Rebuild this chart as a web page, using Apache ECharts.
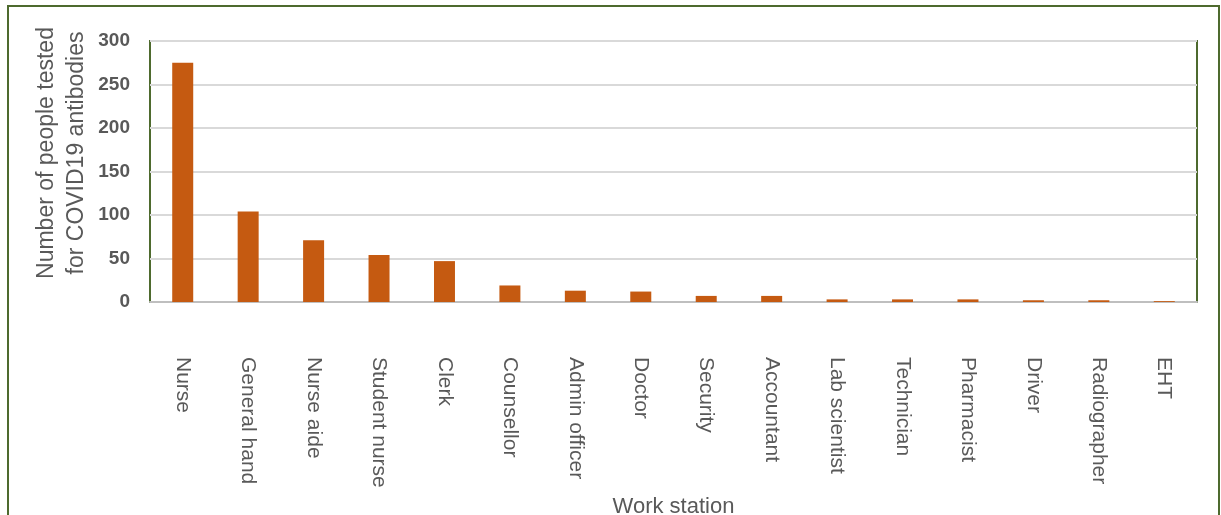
<!DOCTYPE html>
<html>
<head>
<meta charset="utf-8">
<script src="https://cdn.jsdelivr.net/npm/echarts@6/dist/echarts.min.js"></script>
<style>
  html, body { margin: 0; padding: 0; background: #fff; }
  #chart { width: 1221px; height: 515px; }
</style>
</head>
<body>
<div id="chart"></div>
<script>
const categories = ['Nurse', 'General hand', 'Nurse aide', 'Student nurse', 'Clerk', 'Counsellor',
  'Admin officer', 'Doctor', 'Security', 'Accountant', 'Lab scientist', 'Technician',
  'Pharmacist', 'Driver', 'Radiographer', 'EHT']
const tested = [275, 104, 71, 54, 47, 19, 13, 12, 7, 7, 3, 3, 3, 2, 2, 1]
const yTicks = [0, 50, 100, 150, 200, 250, 300]

const green = '#4e6a2e'
const grey = '#595959'

const chart = echarts.init(document.getElementById('chart'))
chart.setOption({
  animation: false,
  textStyle: { fontFamily: 'Liberation Sans, Arial, sans-serif' },
  graphic: [
    {
      type: 'rect',
      shape: { x: 8, y: 6, width: 1211, height: 520 },
      style: { fill: 'none', stroke: green, lineWidth: 2 },
      silent: true,
    },
    {
      type: 'text',
      x: 62,
      y: 153,
      rotation: Math.PI / 2,
      style: {
        text: 'Number of people tested\nfor COVID19 antibodies',
        fontSize: 23,
        lineHeight: 30,
        fill: grey,
        align: 'center',
        verticalAlign: 'middle',
        fontFamily: 'Liberation Sans, Arial, sans-serif',
      },
    },
  ],
  grid: {
    left: 150,
    right: 24,
    top: 41,
    bottom: 213,
    outerBoundsMode: 'none',
    show: true,
    borderColor: green,
    borderWidth: 2,
  },
  xAxis: {
    type: 'category',
    data: categories,
    name: 'Work station',
    nameLocation: 'middle',
    nameGap: 183,
    nameTextStyle: { fontSize: 22, color: grey },
    axisLine: { lineStyle: { color: '#bfbfbf', width: 2 } },
    axisTick: { show: false },
    axisLabel: {
      interval: 0,
      rotate: -90,
      margin: 55,
      fontSize: 21,
      color: grey,
    },
  },
  yAxis: {
    type: 'value',
    min: yTicks[0],
    max: yTicks[yTicks.length - 1],
    interval: 50,
    axisLine: { show: false },
    axisTick: { show: false },
    axisLabel: { fontSize: 19, fontWeight: 'bold', color: grey, margin: 20 },
    splitLine: { lineStyle: { color: '#d9d9d9', width: 2 } },
  },
  series: [
    {
      type: 'bar',
      data: tested,
      barWidth: 21,
      itemStyle: { color: '#c55a11' },
    },
  ],
})
</script>
</body>
</html>
